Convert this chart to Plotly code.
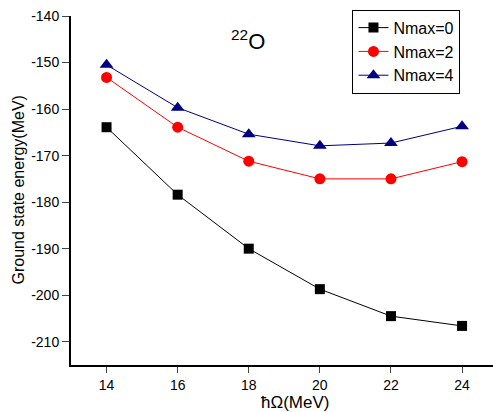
import plotly.graph_objects as go

hw = [14, 16, 18, 20, 22, 24]
e_n0 = [-163.9, -178.4, -190.0, -198.7, -204.5, -206.6]
e_n2 = [-153.2, -163.9, -171.2, -175.0, -175.0, -171.3]
e_n4 = [-150.5, -159.7, -165.4, -167.9, -167.3, -163.7]
names = ["Nmax=0", "Nmax=2", "Nmax=4"]
colors = ["#000000", "#FF0000", "#000080"]
symbols = ["square", "circle", "triangle-up"]
sizes = [10, 11, 12]
xticks = [14, 16, 18, 20, 22, 24]
yticks = [-210, -200, -190, -180, -170, -160, -150, -140]
yticklabels = ["-210", "-200", "-190", "-180", "-170", "-160", "-150", "-140"]

fig = go.Figure()
for ys, n, c, s, sz in zip([e_n0, e_n2, e_n4], names, colors, symbols, sizes):
    fig.add_trace(go.Scatter(x=hw, y=ys, name=n, mode="lines+markers",
                             line=dict(color=c, width=1),
                             marker=dict(symbol=s, size=sz, color=c)))

axis_font = dict(family="Arial, Liberation Sans, sans-serif", size=14, color="black")
fig.update_layout(
    width=493, height=412,
    margin=dict(l=71, r=0, t=16, b=47),
    paper_bgcolor="white", plot_bgcolor="white",
    font=dict(family="Arial, Liberation Sans, sans-serif", color="black"),
    xaxis=dict(range=[13, 24.87], tickvals=xticks, ticks="outside", ticklen=6,
               tickwidth=1, showline=True, linewidth=2, linecolor="black",
               showgrid=False, zeroline=False, tickfont=axis_font),
    yaxis=dict(range=[-215, -140], tickvals=yticks, ticktext=yticklabels,
               ticks="outside", ticklen=7,
               tickwidth=1, showline=True, linewidth=2, linecolor="black",
               showgrid=False, zeroline=False, tickfont=axis_font),
    legend=dict(x=0.667, y=1.018, xanchor="left", yanchor="top",
                bordercolor="black", borderwidth=1, bgcolor="white",
                font=dict(size=16), tracegroupgap=0, itemwidth=30),
    showlegend=True,
)
fig.add_annotation(text="Ground state energy(MeV)", xref="paper", yref="paper",
                   x=-(71-18)/422, y=0.5, textangle=-90, xanchor="center",
                   yanchor="middle", showarrow=False, font=dict(size=16))
fig.add_annotation(text="ħΩ(MeV)", xref="paper", yref="paper", x=(295-71)/422,
                   y=-(402-365)/349, xanchor="center", yanchor="middle", showarrow=False,
                   font=dict(size=17))
fig.add_annotation(text="<sup>22</sup>O", xref="paper", yref="paper", x=(248-71)/422,
                   y=1 - (40-16)/349, xanchor="center", yanchor="middle", showarrow=False,
                   font=dict(size=22))
fig.write_html("out.html")
